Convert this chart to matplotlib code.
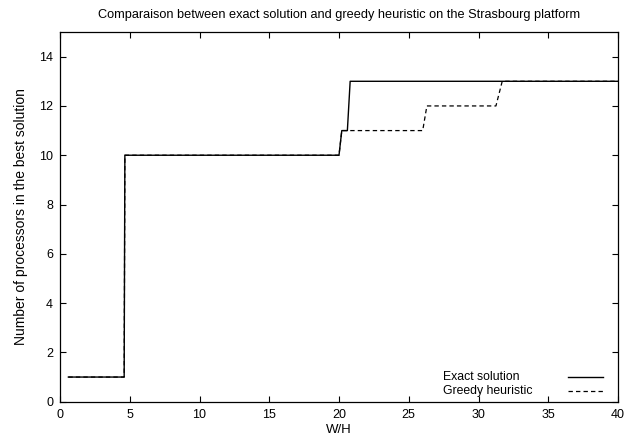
import matplotlib
matplotlib.use("Agg")
import matplotlib.pyplot as plt

plt.rcParams['font.family'] = ['Liberation Sans', 'DejaVu Sans']

exact_x = [0.6, 4.6, 4.65, 20.0, 20.2, 20.6, 20.8, 40.0]
exact_y = [1, 1, 10, 10, 11, 11, 13, 13]
greedy_x = [0.6, 4.6, 4.65, 20.0, 20.2, 26.0, 26.3, 31.25, 31.7, 40.0]
greedy_y = [1, 1, 10, 10, 11, 11, 12, 12, 13, 13]

xticks = [0, 5, 10, 15, 20, 25, 30, 35, 40]
yticks = [0, 2, 4, 6, 8, 10, 12, 14]
labels = ['Exact solution', 'Greedy heuristic']

fig = plt.figure(figsize=(6.26, 4.37), dpi=100)
ax = fig.add_axes([60/626, 35.3/437, 558/626, 369.7/437])

dash = (0, (3.5, 2.5))
ax.plot(exact_x, exact_y, color='black', lw=1.0)
ax.plot(greedy_x, greedy_y, color='black', lw=0.9, linestyle=dash)

ax.set_xlim(0, 40)
ax.set_ylim(0, 15)
ax.set_xticks(xticks)
ax.set_yticks(yticks)
ax.tick_params(direction='in', top=True, right=True, length=4, width=0.8,
               labelsize=9, pad=5)
for s in ax.spines.values():
    s.set_linewidth(0.9)

ax.set_title('Comparaison between exact solution and greedy heuristic on the Strasbourg platform',
             fontsize=9.2, pad=10)
ax.set_xlabel('W/H', fontsize=9.5, labelpad=2.5)
ax.set_ylabel('Number of processors in the best solution', fontsize=10, labelpad=8)

# key (left-aligned text, sample lines on the right, as in gnuplot)
key_y = [0.0676, 0.029]
styles = [dict(lw=1.0, linestyle='-'), dict(lw=0.9, linestyle=dash)]
for lab, yy, st in zip(labels, key_y, styles):
    ax.text(0.686, yy, lab, transform=ax.transAxes, ha='left', va='center',
            fontsize=8.8)
    ax.plot([0.910, 0.973], [yy, yy], transform=ax.transAxes, color='black', **st)

fig.savefig('out.png', dpi=100)
